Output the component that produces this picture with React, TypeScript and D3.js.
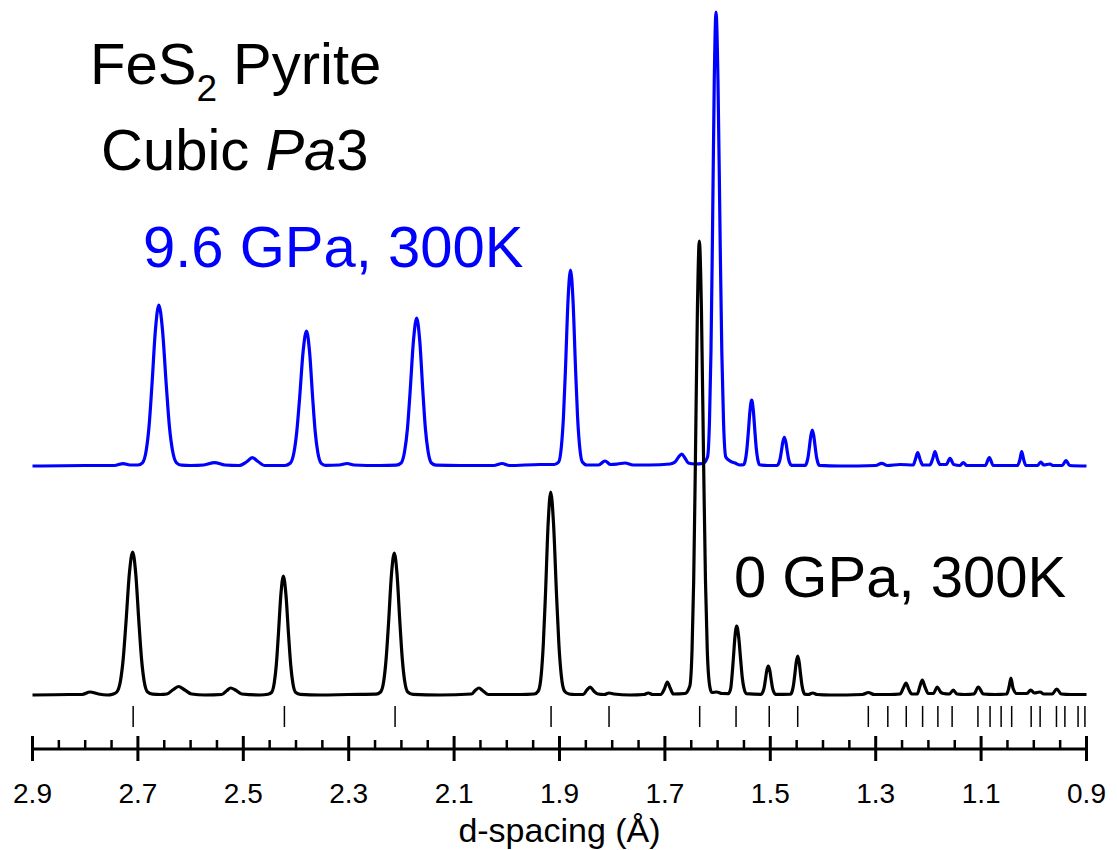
import React from "react";
import * as d3 from "d3";

// d-spacing (Å), intensity (a.u., above each pattern's own baseline)
const ambientPattern: [number, number][] = [
  [2.900, 0], [2.830, 0.5], [2.806, 0.5], [2.791, 3], [2.775, 1], [2.758, 0], [2.748, 0.8],
  [2.7401, 3], [2.7331, 14], [2.7279, 36], [2.7227, 72], [2.7161, 122], [2.710, 143], [2.7042, 122], [2.698, 72], [2.6931, 36], [2.6882, 14], [2.6816, 3], [2.672, 0.8], [2.658, 0.5],
  [2.645, 1], [2.634, 5], [2.623, 8.5], [2.611, 5], [2.598, 1], [2.573, 0],
  [2.541, 0.5], [2.531, 4.5], [2.524, 7], [2.515, 5], [2.503, 1], [2.468, 0], [2.453, 0.8],
  [2.4465, 2.5], [2.4413, 12], [2.4374, 30], [2.4335, 60], [2.4286, 101], [2.424, 119], [2.4192, 101], [2.4141, 60], [2.410, 30], [2.406, 12], [2.4005, 2.5], [2.392, 0.6], [2.354, 0], [2.30, 0.5],
  [2.248, 0.8], [2.2396, 3], [2.2335, 14], [2.229, 36], [2.2245, 71], [2.2188, 121], [2.2135, 142], [2.2083, 121], [2.2027, 71], [2.1983, 36], [2.1938, 14], [2.1879, 3], [2.178, 0.6], [2.1268, 0],
  [2.067, 1], [2.059, 5], [2.053, 7], [2.045, 4], [2.035, 0.5], [1.975, 0.5], [1.948, 1],
  [1.9402, 4], [1.9347, 20], [1.9307, 51], [1.9266, 101], [1.9215, 172], [1.9167, 203], [1.9114, 172], [1.9057, 101], [1.9012, 51], [1.8967, 20], [1.8906, 4], [1.882, 1], [1.8706, 0.5],
  [1.855, 0.5], [1.848, 5], [1.842, 8], [1.835, 4], [1.827, 1],
  [1.815, 0.5], [1.806, 2], [1.797, 1], [1.766, 0],
  [1.740, 0.5], [1.7315, 2], [1.723, 0.5],
  [1.708, 0.5], [1.701, 6], [1.6954, 13], [1.690, 7], [1.684, 1], [1.662, 1.5],
  [1.6527, 9], [1.6485, 45], [1.6454, 114], [1.6423, 227], [1.6383, 386], [1.6347, 454], [1.6307, 386], [1.6264, 227], [1.623, 114], [1.6196, 45], [1.615, 9], [1.611, 2.5], [1.6017, 3], [1.5917, 1.5],
  [1.5792, 1.4], [1.575, 7], [1.573, 17], [1.5703, 35], [1.5669, 59], [1.5638, 69], [1.5602, 59], [1.5562, 35], [1.5531, 17], [1.55, 7], [1.5458, 1.4],
  [1.5173, 0.6], [1.5142, 3], [1.5118, 7], [1.5095, 14.5], [1.5065, 25], [1.5038, 29], [1.5011, 25], [1.4981, 14.5], [1.4958, 7], [1.4934, 3], [1.4903, 0.6],
  [1.4615, 0.8], [1.4584, 4], [1.456, 10], [1.4537, 19.5], [1.4507, 33], [1.448, 39], [1.4453, 33], [1.4423, 19.5], [1.44, 10], [1.4376, 4], [1.4345, 0.8],
  [1.428, 0.5], [1.4196, 2], [1.411, 0.5], [1.3867, 0],
  [1.325, 0.5], [1.314, 2.5], [1.303, 0.5], [1.2729, 0.5],
  [1.2539, 1], [1.2475, 7], [1.2425, 12], [1.2375, 6], [1.2317, 1],
  [1.2211, 1], [1.216, 9], [1.2116, 15], [1.2065, 8], [1.2002, 1.5],
  [1.1907, 1.5], [1.1831, 8], [1.177, 3], [1.1717, 1.5],
  [1.16, 1], [1.1528, 5], [1.146, 1], [1.1306, 0.5],
  [1.1135, 1], [1.1053, 8], [1.0958, 1], [1.0736, 0.5],
  [1.0514, 1], [1.047, 8], [1.0433, 17], [1.0395, 7], [1.0324, 1.5],
  [1.013, 1.5], [1.0059, 5], [0.999, 2], [0.9882, 3], [0.981, 1],
  [0.965, 1], [0.9565, 6], [0.948, 1], [0.93, 0.5], [0.9, 0.5],
];

const highPressurePattern: [number, number][] = [
  [2.900, 0], [2.80, 0.5], [2.745, 0.5], [2.728, 2.4], [2.715, 1], [2.700, 1],
  [2.6913, 3.2], [2.6841, 16], [2.6788, 40], [2.6734, 80.5], [2.6666, 137], [2.6603, 161], [2.6535, 137], [2.6461, 80.5], [2.6403, 40], [2.6345, 16], [2.6267, 3.2], [2.617, 0.8], [2.6, 0.5],
  [2.575, 1], [2.5545, 3.4], [2.535, 1],
  [2.508, 0.5], [2.494, 4], [2.483, 8.3], [2.472, 4.5], [2.46, 0.5], [2.4209, 0.5],
  [2.4111, 2.7], [2.4039, 13.5], [2.3986, 34], [2.3932, 67.5], [2.3864, 115], [2.3801, 135], [2.3744, 115], [2.3683, 67.5], [2.3635, 34], [2.3586, 13.5], [2.3521, 2.7], [2.344, 0.7],
  [2.318, 1], [2.303, 2.5], [2.29, 1], [2.2406, 0.5], [2.21, 0.8],
  [2.2006, 3], [2.1938, 15], [2.1886, 37], [2.1835, 74], [2.177, 126], [2.171, 148], [2.1653, 126], [2.1592, 74], [2.1544, 37], [2.1495, 15], [2.143, 3], [2.134, 0.8], [2.0888, 0.5],
  [2.025, 0.5], [2.009, 2.5], [1.995, 0.5], [1.937, 1.5], [1.91, 1.5],
  [1.9016, 4], [1.8964, 19.6], [1.8925, 49], [1.8886, 98], [1.8837, 167], [1.8791, 196], [1.8745, 167], [1.8696, 98], [1.8657, 49], [1.8618, 19.6], [1.8566, 4], [1.848, 1],
  [1.826, 1], [1.8137, 5], [1.803, 1.5], [1.79, 2], [1.7757, 3], [1.76, 1], [1.7283, 1],
  [1.69, 2], [1.6808, 4], [1.674, 9], [1.6681, 12], [1.662, 8], [1.6556, 3], [1.6429, 2], [1.628, 2.5],
  [1.6191, 9], [1.6154, 45], [1.6126, 114], [1.6098, 227], [1.6063, 386], [1.603, 454], [1.5993, 386], [1.5952, 227], [1.592, 114], [1.5888, 45], [1.5845, 9], [1.5765, 5], [1.567, 3], [1.5575, 1],
  [1.5507, 1.3], [1.5471, 6.6], [1.5445, 16.5], [1.5418, 33], [1.5384, 56], [1.5353, 66], [1.5323, 56], [1.529, 33], [1.5264, 16.5], [1.5238, 6.6], [1.5204, 1.3], [1.5044, 0.5],
  [1.4869, 0.6], [1.4838, 2.9], [1.4814, 7.2], [1.4791, 14.3], [1.4761, 24.3], [1.4734, 28.6], [1.4707, 24.3], [1.4677, 14.3], [1.4654, 7.2], [1.463, 2.9], [1.4599, 0.6],
  [1.4338, 0.7], [1.4307, 3.6], [1.4283, 9], [1.426, 18], [1.423, 30.6], [1.4203, 36], [1.4176, 30.6], [1.4146, 18], [1.4123, 9], [1.4099, 3.6], [1.4068, 0.7], [1.3677, 0],
  [1.3, 0.5], [1.2886, 2.7], [1.278, 0.5], [1.2539, 1.5],
  [1.2287, 1], [1.2245, 7], [1.2203, 13.3], [1.2155, 6], [1.2108, 1],
  [1.197, 1], [1.192, 7], [1.1875, 14.3], [1.1825, 6], [1.178, 1.5],
  [1.166, 1.5], [1.159, 7.7], [1.152, 1.5],
  [1.14, 0.5], [1.1338, 3.3], [1.127, 0.5],
  [1.092, 0.5], [1.0844, 8.3], [1.077, 0.5],
  [1.031, 0.5], [1.0265, 6], [1.023, 14.3], [1.019, 6], [1.015, 0.5],
  [0.993, 0.5], [0.9869, 4], [0.981, 1], [0.9693, 2], [0.964, 0.5],
  [0.946, 0.5], [0.9389, 5.3], [0.932, 0.5], [0.9, 0],
];

// Bragg reflection positions of pyrite (Å)
const reflections: number[] = [
  2.709, 2.422, 2.212, 1.916, 1.806, 1.634, 1.565, 1.502, 1.448,
  1.314, 1.277, 1.242, 1.211, 1.182, 1.155, 1.106, 1.083, 1.062, 1.042,
  1.005, 0.988, 0.957, 0.941, 0.916, 0.903,
];

const majorTickLabels: string[] = ["2.9", "2.7", "2.5", "2.3", "2.1", "1.9", "1.7", "1.5", "1.3", "1.1", "0.9"];
const minorTickValues: number[] = [
  2.85, 2.8, 2.75, 2.65, 2.6, 2.55, 2.45, 2.4, 2.35, 2.25, 2.2, 2.15, 2.05, 2.0, 1.95,
  1.85, 1.8, 1.75, 1.65, 1.6, 1.55, 1.45, 1.4, 1.35, 1.25, 1.2, 1.15, 1.05, 1.0, 0.95,
];

const HP_OFFSET = 229;

const FONT = "'Liberation Sans', Arial, Helvetica, sans-serif";

export default function App() {
  const W = 1117;
  const H = 850;
  const x = d3.scaleLinear().domain([2.9, 0.9]).range([32.5, 1086.5]);
  const y = d3.scaleLinear().domain([0, 700]).range([695, -5]);
  const axisY = 749;

  const lineAmb = d3
    .line<[number, number]>()
    .x((d) => x(d[0]))
    .y((d) => y(d[1]))
    .curve(d3.curveMonotoneX);
  const lineHP = d3
    .line<[number, number]>()
    .x((d) => x(d[0]))
    .y((d) => y(d[1] + HP_OFFSET))
    .curve(d3.curveMonotoneX);

  return (
    <svg
      width={W}
      height={H}
      viewBox={`0 0 ${W} ${H}`}
      style={{ position: "absolute", left: 0, top: 0, background: "#fff" }}
      fontFamily={FONT}
    >
      <rect x={0} y={0} width={W} height={H} fill="#fff" />
      {/* patterns */}
      <path d={lineHP(highPressurePattern) || ""} fill="none" stroke="#0000ff" strokeWidth={3.2} strokeLinejoin="round" />
      <path d={lineAmb(ambientPattern) || ""} fill="none" stroke="#000" strokeWidth={3.2} strokeLinejoin="round" />

      {/* reflection markers */}
      {reflections.map((r, i) => (
        <line key={"r" + i} x1={x(r)} x2={x(r)} y1={706} y2={727} stroke="#000" strokeWidth={1.5} />
      ))}

      {/* axis */}
      <line x1={x(2.9)} x2={x(0.9)} y1={axisY} y2={axisY} stroke="#000" strokeWidth={3} />
      {majorTickLabels.map((t) => (
        <g key={"M" + t}>
          <line x1={x(+t)} x2={x(+t)} y1={axisY - 13} y2={axisY + 12} stroke="#000" strokeWidth={3} />
          <text x={x(+t)} y={803} fontSize={28} textAnchor="middle" fill="#000">
            {t}
          </text>
        </g>
      ))}
      {minorTickValues.map((v) => (
        <line key={"m" + v} x1={x(v)} x2={x(v)} y1={axisY - 9} y2={axisY} stroke="#000" strokeWidth={2.5} />
      ))}
      <text x={(x(2.9) + x(0.9)) / 2} y={842} fontSize={34} textAnchor="middle" fill="#000">
        d-spacing (Å)
      </text>

      {/* annotations */}
      <text x={90} y={84} fontSize={58} fill="#000">
        FeS<tspan fontSize={37} dy={17}>2</tspan>
        <tspan dy={-17}> Pyrite</tspan>
      </text>
      <text x={101} y={170} fontSize={58} fill="#000">
        Cubic <tspan fontStyle="italic">Pa</tspan>3
      </text>
      <text x={143} y={267} fontSize={58} fill="#0000ff">
        9.6 GPa, 300K
      </text>
      <text x={734} y={597} fontSize={58} fill="#000">
        0 GPa, 300K
      </text>
    </svg>
  );
}
